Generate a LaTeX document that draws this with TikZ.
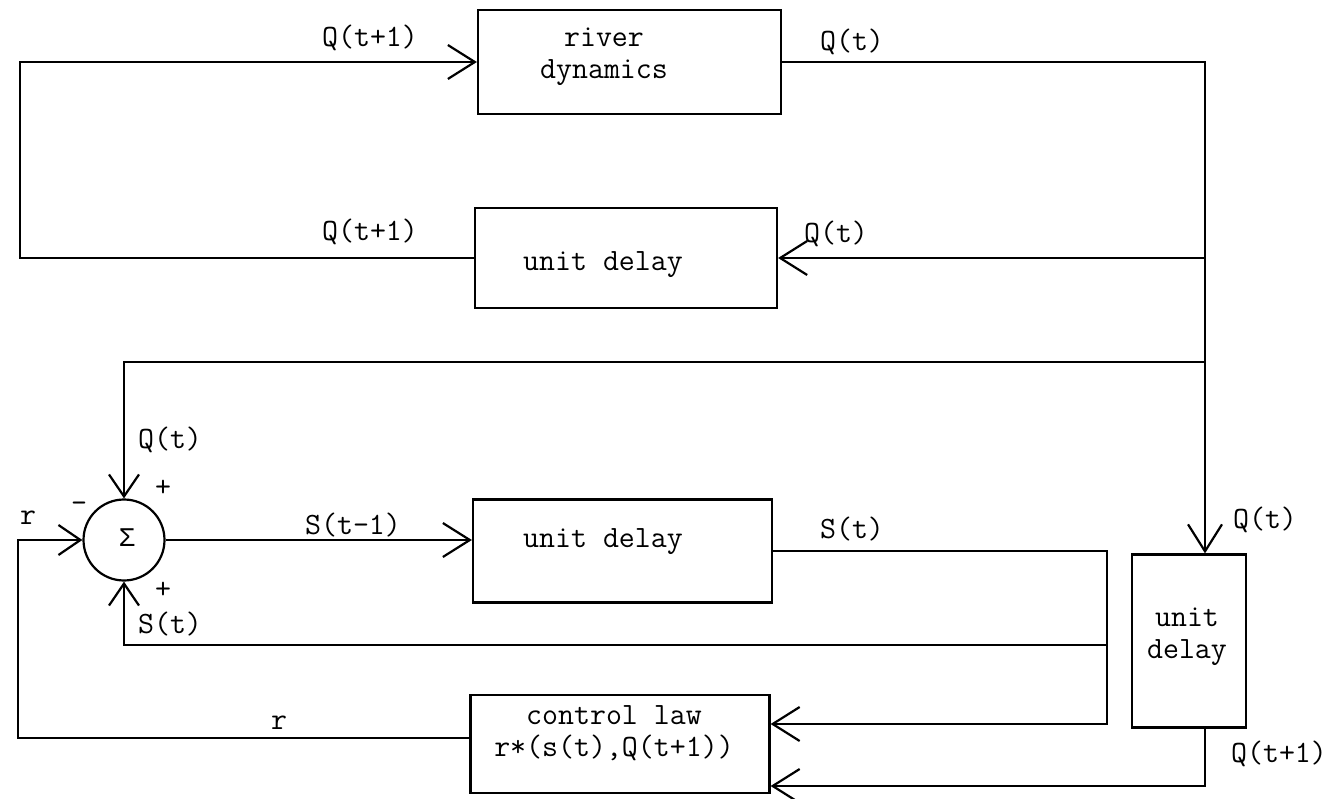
\documentclass[tikz,border=0pt]{standalone}
\usepackage{fontspec}
\newfontfamily\greekmono{Liberation Mono}
\usetikzlibrary{arrows.meta}
\begin{document}
\begin{tikzpicture}[x=1pt,y=-1pt,line width=2.2pt,
  box/.style={draw,rectangle,line width=2.2pt,inner sep=0pt},
  txt/.style={font=\fontsize{31}{32}\selectfont\ttfamily,inner sep=0pt,align=center},
  flow/.style={-{Straight Barb[length=27pt,width=34pt,line width=2.2pt]}},
  sumflow/.style={-{Straight Barb[length=22pt,width=30pt,line width=2.2pt]}},
  line cap=butt]
\useasboundingbox (0,0) rectangle (1330,799);

% blocks
\node[box,minimum width=303pt,minimum height=104pt] (river) at (629.5,62) {};
\node[box,minimum width=302pt,minimum height=100pt] (udmid) at (626,258) {};
\node[box,minimum width=299pt,minimum height=103pt] (udbot) at (622.5,551) {};
\node[box,minimum width=299pt,minimum height=98pt] (ctrl) at (620,744) {};
\node[box,minimum width=114pt,minimum height=173pt] (udright) at (1189,641) {};
\node[draw,circle,minimum size=81pt,inner sep=0pt] (sig) at (124,540) {};

% block texts
\node[txt] (triver) at (604,57) {river\\dynamics};
\node[txt] (tudmid) at (603,265) {unit delay};
\node[txt] (tudbot) at (603,542) {unit delay};
\node[txt] (tctrl) at (614,733) {control law\\r*(s(t),Q(t+1))};
\node[txt] (tudright) at (1187,637) {unit\\delay};
\node[inner sep=0pt,font=\fontsize{27}{28}\selectfont\greekmono] (tsig) at (127,538) {Σ};

% signal labels
\node[txt] (l1) at (370,38) {Q(t+1)};
\node[txt] (l2) at (852,42) {Q(t)};
\node[txt] (l3) at (370,232) {Q(t+1)};
\node[txt] (l4) at (836,234) {Q(t)};
\node[txt] (l5) at (170,440) {Q(t)};
\node[txt] (l6) at (163,488) {+};
\node[txt] (l7) at (79,507) {-};
\node[txt] (l8) at (28,518) {r};
\node[txt] (l9) at (163,590) {+};
\node[txt] (l10) at (170,624) {S(t)};
\node[txt] (l11) at (353,525) {S(t-1)};
\node[txt] (l12) at (852,529) {S(t)};
\node[txt] (l13) at (1265,520) {Q(t)};
\node[txt] (l14) at (1279,754) {Q(t+1)};
\node[txt] (l15) at (279,723) {r};

% routing points
\coordinate (c1) at (20,258);
\coordinate (c2) at (20,62);
\coordinate (rtop) at (1205,62);
\coordinate (j1) at (1205,258);
\coordinate (j2) at (1205,362);
\coordinate (c3) at (124,362);
\coordinate (c4) at (18,540);
\coordinate (c5) at (18,738);
\coordinate (c6) at (1107,551);
\coordinate (c7) at (1107,724);
\coordinate (j3) at (1107,645);
\coordinate (c8) at (124,645);
\coordinate (c9) at (1205,786);

% connectors
\draw[flow] (udmid.west) -- (c1) -- (c2) -- (river.west);
\draw[flow] (river.east) -- (rtop) -- (udright.north -| rtop);
\draw[flow] (j1) -- (udmid.east);
\draw[sumflow] (j2) -- (c3) -- (sig.north);
\draw[sumflow] (ctrl.west |- c5) -- (c5) -- (c4) -- (sig.west);
\draw[flow] (sig.east) -- (sig.east -| udbot.west);
\draw[flow] (udbot.east) -- (c6) -- (c7) -- (c7 -| ctrl.east);
\draw[sumflow] (j3) -- (c8) -- (sig.south);
\draw[flow] (udright.south -| c9) -- (c9) -- (c9 -| ctrl.east);
\end{tikzpicture}
\end{document}
